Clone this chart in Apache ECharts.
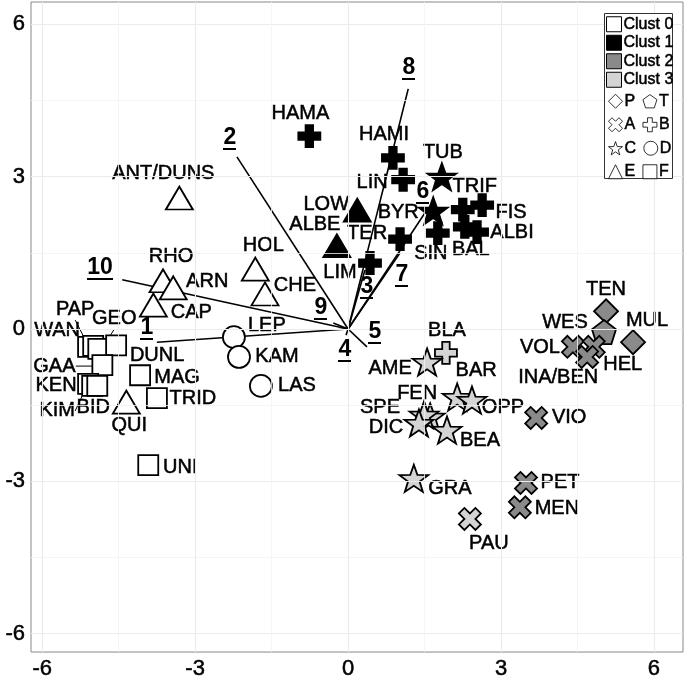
<!DOCTYPE html>
<html><head><meta charset="utf-8">
<script src="https://cdn.jsdelivr.net/npm/echarts@6/dist/echarts.min.js"></script>
<style>html,body{margin:0;padding:0;background:#fff}#c{width:685px;height:682px}</style>
</head><body><div id="c"></div>
<script>
// ---- data ----
const pointNames = ['WAN','PAP','GEO','DUNL','GAA','KEN','KIM','BID','MAG','TRID','UNI','LEP','KAM','LAS','ANT/DUNS','RHO','ARN','CAP','HOL','CHE','QUI',
  'HAMA','HAMI','LIN','TUB','BYR','TER','LIM','TRIF','FIS','SIN','BAL','ALBI','LOW','ALBE',
  'TEN','MUL','WES','VOL','HEL','INA/BEN','VIO','PET','MEN',
  'BLA','AME','BAR','OPP','FEN','SPE','DIC','BEA','GRA','PAU'];
const pointX = [-5.10,-5.00,-4.90,-4.55,-4.82,-5.10,-5.02,-4.92,-4.08,-3.75,-3.92,-2.24,-2.14,-1.71,-3.31,-3.63,-3.43,-3.82,-1.82,-1.63,-4.35,
  -0.76,0.88,1.08,1.84,1.67,1.02,0.43,2.25,2.63,1.76,2.29,2.53,0.18,-0.22,
  5.06,5.59,5.02,4.41,4.82,4.69,3.69,3.49,3.37,
  1.92,1.55,2.14,2.43,1.61,1.49,1.39,1.94,1.29,2.39];
const pointY = [-0.35,-0.33,-0.39,-0.32,-0.71,-1.08,-1.12,-1.12,-0.91,-1.36,-2.68,-0.16,-0.55,-1.12,2.58,0.95,0.81,0.47,1.18,0.69,-1.44,
  3.80,3.37,2.94,3.00,2.33,1.77,1.30,2.35,2.44,1.89,2.01,1.91,2.34,1.64,
  0.35,-0.26,-0.06,-0.35,-0.35,-0.55,-1.75,-3.03,-3.51,
  -0.47,-0.65,-1.34,-1.40,-1.73,-1.69,-1.85,-1.99,-2.94,-3.74];
const pointCluster = [0,0,0,0,0,0,0,0,0,0,0,0,0,0,0,0,0,0,0,0,0,
  1,1,1,1,1,1,1,1,1,1,1,1,1,1,
  2,2,2,2,2,2,2,2,2,
  3,3,3,3,3,3,3,3,3,3];
const pointShape = ['F','F','F','F','F','F','F','F','F','F','F','D','D','D','E','E','E','E','E','E','E',
  'B','B','B','C','C','B','B','B','B','B','B','B','E','E',
  'P','P','T','A','A','A','A','A','A',
  'B','C','C','C','C','C','C','C','C','A'];
const arrowNames = ['1','2','3','4','5','6','7','8','9','10'];
const arrowX = [-3.75,-2.18,0.33,-0.04,0.37,1.51,1.02,1.18,-0.29,-4.43];
const arrowY = [-0.26,3.39,1.16,-0.12,-0.35,2.29,1.50,4.73,0.12,0.97];
const arrowLabelX = [-3.94,-2.31,0.37,-0.06,0.53,1.47,1.06,1.20,-0.53,-4.86];
const arrowLabelY = [0.02,3.76,0.83,-0.41,-0.06,2.70,1.06,5.14,0.41,1.20];
const tickValues = [-6,-3,0,3,6];
const minorValues = [-4.5,-1.5,1.5,4.5];
const clusterNames = ['Clust 0','Clust 1','Clust 2','Clust 3'];
const shapeKeys = ['P','T','A','B','C','D','E','F'];

// ---- styles / layout ----
const FONT = 'Liberation Sans, Arial, sans-serif';
const ARROW_FONT = 'bold 23px ' + FONT;
const HEAVY = {textBorderWidth:0.5, textBorderColor:'#000', textShadowBlur:0};
const clusterColor = ['#ffffff','#000000','#8a8a8a','#d4d4d4'];
const shapeSymbol = {
  P:'diamond',
  T:'path://M5,0L9.76,3.45L7.94,9.05L2.06,9.05L0.24,3.45Z',
  A:'path://M0,2.5L2.5,0L5,2.5L7.5,0L10,2.5L7.5,5L10,7.5L7.5,10L5,7.5L2.5,10L0,7.5L2.5,5Z',
  B:'path://M3.3,0L6.7,0L6.7,3.3L10,3.3L10,6.7L6.7,6.7L6.7,10L3.3,10L3.3,6.7L0,6.7L0,3.3L3.3,3.3Z',
  C:'path://M5,0L6.18,3.38L9.76,3.45L6.9,5.62L7.94,9.05L5,7L2.06,9.05L3.1,5.62L0.24,3.45L3.82,3.38Z',
  D:'circle', E:'triangle', F:'rect'
};
const shapeSize = {P:24, T:24, A:22, B:22, C:[29,27], D:22, E:[27,23], F:20};
const labelOffsets = {
  WAN:[-31,-16], PAP:[-18,-36], GEO:[16,-30], DUNL:[41,10], GAA:[-48,1], KEN:[-32,2], KIM:[-35,25], BID:[-4,22],
  MAG:[37,2], TRID:[36,0], UNI:[32,2], LEP:[33,-12], KAM:[38,0], LAS:[36,0], 'ANT/DUNS':[-16,-25], RHO:[8,-24],
  ARN:[34,-6], CAP:[38,7], HOL:[8,-24], CHE:[30,-9], QUI:[3,23],
  HAMA:[-9,-23], HAMI:[-9,-23], LIN:[-31,3], TUB:[1,-24], BYR:[-35,2], TER:[-33,-6], LIM:[-30,9], TRIF:[12,-23],
  FIS:[29,7], SIN:[-7,20], BAL:[6,23], ALBI:[35,0], LOW:[-31,-6], ALBE:[-22,-21],
  TEN:[0,-22], MUL:[14,-22], WES:[-39,-10], VOL:[-33,1], HEL:[29,18], 'INA/BEN':[-29,21], VIO:[33,0], PET:[34,0], MEN:[37,1],
  BLA:[1,-22], AME:[-37,6], BAR:[19,-27], OPP:[31,7], FEN:[-13,-23], SPE:[-44,-7], DIC:[-33,5], BEA:[33,10], GRA:[36,10], PAU:[19,25]
};
const leaderNames = ['PAP','GEO','GAA','KIM'];
const CENTER = {position:['50%','50%'], align:'center', verticalAlign:'middle'};

const measureCtx = document.createElement('canvas').getContext('2d');
measureCtx.font = ARROW_FONT;

const series = [];
// grid lines via markLine
series.push({
  type:'scatter', data:[], silent:true, z:1,
  markLine:{
    silent:true, symbol:['none','none'], label:{show:false}, animation:false,
    data: [].concat(
      tickValues.map(v=>({xAxis:v, lineStyle:{color:'#ebebeb', width:1.1, type:'solid'}})),
      tickValues.map(v=>({yAxis:v, lineStyle:{color:'#ebebeb', width:1.1, type:'solid'}})),
      minorValues.map(v=>({xAxis:v, lineStyle:{color:'#f3f3f3', width:0.8, type:'solid'}})),
      minorValues.map(v=>({yAxis:v, lineStyle:{color:'#f3f3f3', width:0.8, type:'solid'}}))
    )
  }
});
// arrows (lines from origin)
series.push({
  type:'custom', z:2, silent:true,
  renderItem:(params, api) => {
    const p0 = api.coord([0,0]);
    const p1 = api.coord([api.value(0), api.value(1)]);
    return {type:'line', shape:{x1:p0[0], y1:p0[1], x2:p1[0], y2:p1[1]}, style:{stroke:'#000', lineWidth:1.6}};
  },
  data: arrowX.map((x,i)=>[x, arrowY[i]])
});
// arrow labels (bold, underlined)
series.push({
  type:'custom', z:5, silent:true,
  renderItem:(params, api) => {
    const name = arrowNames[params.dataIndex];
    const p = api.coord([api.value(0), api.value(1)]);
    const cx = Math.round(p[0]), cy = Math.round(p[1]);
    const w = Math.round(measureCtx.measureText(name).width);
    return {type:'group', children:[
      {type:'text', x:cx, y:cy, style:{text:name, font:ARROW_FONT, fill:'#000', align:'center', verticalAlign:'middle'}},
      {type:'rect', shape:{x:cx - Math.round(w/2), y:cy + 10, width:w, height:2}, style:{fill:'#000'}}
    ]};
  },
  data: arrowLabelX.map((x,i)=>[x, arrowLabelY[i]])
});
// points by cluster
clusterNames.forEach((cn, k) => {
  const idx = pointNames.map((n,i)=>i).filter(i=>pointCluster[i]===k);
  series.push({
    type:'scatter', name:cn, z:3,
    itemStyle:{color:clusterColor[k], borderColor:'#000', borderWidth:1.8, opacity:1},
    emphasis:{disabled:true},
    label:Object.assign({show:true, formatter:p=>p.name, fontSize:20, color:'#000', fontFamily:FONT}, CENTER, HEAVY),
    labelLayout: p => { const o = labelOffsets[pointNames[idx[p.dataIndex]]] || [0,0]; return {dx:o[0], dy:o[1]}; },
    labelLine:{show:false, lineStyle:{color:'#000', width:1}},
    data: idx.map(i => {
      const d = {name:pointNames[i], value:[pointX[i], pointY[i]], symbol:shapeSymbol[pointShape[i]], symbolSize:shapeSize[pointShape[i]]};
      if (leaderNames.indexOf(pointNames[i]) >= 0) d.labelLine = {show:true, length2:0, lineStyle:{color:'#000', width:1}};
      return d;
    })
  });
});
// legend-only shape series
shapeKeys.forEach(k => {
  series.push({type:'scatter', name:k, data:[], symbol:shapeSymbol[k],
    itemStyle:{color:'#fff', borderColor:'#000', borderWidth:1}});
});

const axisCommon = {
  type:'value',
  axisLine:{show:false},
  splitLine:{show:false},
  axisTick:{show:true, length:4, lineStyle:{color:'#777', width:1}, customValues:tickValues},
  axisLabel:Object.assign({show:true, customValues:tickValues, fontSize:22, color:'#000', fontFamily:FONT, margin:6}, HEAVY)
};

const option = {
  animation:false,
  backgroundColor:'#fff',
  grid:{left:31, right:2, top:2, bottom:30, show:true, borderColor:'#888', borderWidth:1, backgroundColor:'#fff', containLabel:false},
  xAxis:Object.assign({}, axisCommon, {min:-6.22, max:6.57}),
  yAxis:Object.assign({}, axisCommon, {min:-6.36, max:6.44}),
  graphic:[{type:'rect', left:604, top:13, z:10, shape:{width:68, height:165}, style:{fill:'#fff', stroke:'#333', lineWidth:1}}],
  legend:[
    {data:clusterNames.map(n=>({name:n, icon:'rect'})), orient:'vertical', left:606, top:16, padding:0,
     itemWidth:15, itemHeight:15, itemGap:2, selectedMode:false, z:11,
     itemStyle:{borderColor:'#000', borderWidth:1},
     textStyle:Object.assign({fontSize:16, lineHeight:15, fontFamily:FONT, color:'#000', padding:[0,0,0,-3]}, HEAVY)},
    {data:shapeKeys.map(k=>({name:k})), orient:'horizontal', left:608, top:93, width:68, padding:0,
     itemWidth:14, itemHeight:14, itemGap:7, selectedMode:false, z:11,
     itemStyle:{color:'#fff', borderColor:'#000', borderWidth:1},
     textStyle:Object.assign({fontSize:16, fontFamily:FONT, color:'#000', padding:[0,0,0,-3]}, HEAVY)}
  ],
  series:series
};
const chart = echarts.init(document.getElementById('c'), null, {renderer:'canvas'});
chart.setOption(option);
</script>
</body></html>
